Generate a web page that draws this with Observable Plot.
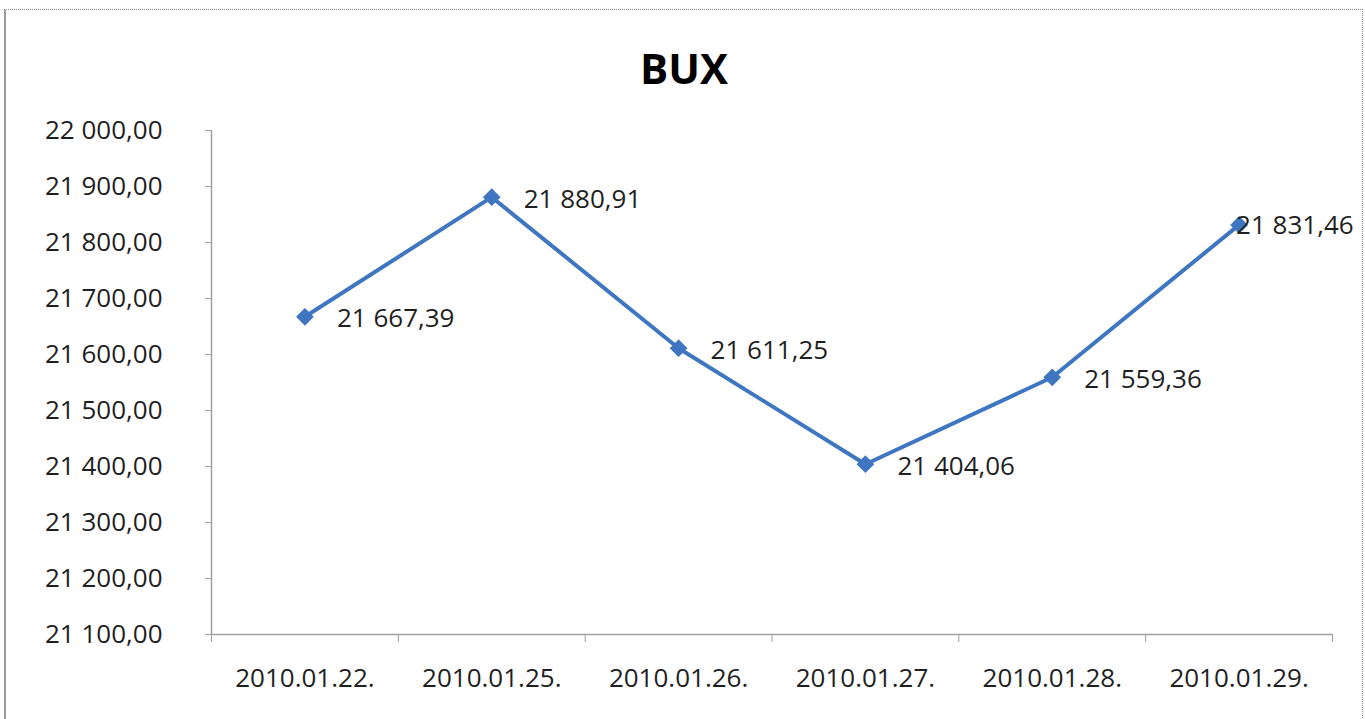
<!DOCTYPE html>
<html>
<head>
<meta charset="utf-8">
<script src="https://cdn.jsdelivr.net/npm/d3@7"></script>
<script src="https://cdn.jsdelivr.net/npm/@observablehq/plot@0.6"></script>
<style>
  html, body { margin: 0; padding: 0; background: #fff; }
  #wrap { position: relative; width: 1365px; height: 719px; overflow: hidden; }
  #border { position: absolute; left: 4px; top: 9px; width: 1356px; height: 760px;
            border-top: 1px dotted #8a8a8a; border-right: 1px dotted #8a8a8a;
            border-left: 2px solid #9a9a9a; pointer-events: none; }
</style>
</head>
<body>
<div id="wrap"><div id="border"></div></div>
<script>
const title = "BUX";
const dates = ["2010.01.22.", "2010.01.25.", "2010.01.26.", "2010.01.27.", "2010.01.28.", "2010.01.29."];
const values = [21667.39, 21880.91, 21611.25, 21404.06, 21559.36, 21831.46];
const yTicks = [21100, 21200, 21300, 21400, 21500, 21600, 21700, 21800, 21900, 22000];

const locale = d3.formatLocale({decimal: ",", thousands: " ", grouping: [3], currency: ["", ""]});
const fmt = locale.format(",.2f");

const idx = dates.map((d, i) => i);
const bounds = d3.range(dates.length + 1).map(i => i - 0.5);
const blue = "#3f76c2";
const axisGray = "#a0a0a0";
const textColor = "#1f1f1f";

const chart = Plot.plot({
  width: 1365,
  height: 719,
  marginLeft: 211,
  marginRight: 33,
  marginTop: 130,
  marginBottom: 85,
  style: {fontFamily: "'Open Sans', sans-serif", fontSize: "26px", background: "transparent", color: textColor},
  x: {type: "linear", domain: [-0.5, dates.length - 0.5]},
  y: {domain: [yTicks[0], yTicks[yTicks.length - 1]]},
  marks: [
    Plot.ruleX([-0.5], {stroke: axisGray, strokeWidth: 1.5}),
    Plot.ruleY([yTicks[0]], {stroke: axisGray, strokeWidth: 1.5}),
    Plot.axisY({ticks: yTicks, tickFormat: () => "", tickSize: 6, stroke: axisGray, label: null}),
    Plot.axisY({ticks: yTicks, tickFormat: fmt, tickSize: 0, tickPadding: 49, fill: textColor, label: null}),
    Plot.axisX({ticks: bounds, tickFormat: () => "", tickSize: 8, stroke: axisGray, label: null}),
    Plot.axisX({ticks: idx, tickFormat: i => dates[i], tickSize: 0, tickPadding: 34, fill: textColor, label: null}),
    Plot.line(idx, {x: i => i, y: i => values[i], stroke: blue, strokeWidth: 4}),
    Plot.dot(idx, {x: i => i, y: i => values[i], symbol: "diamond2", r: 8, fill: blue, stroke: "none"}),
    Plot.text(idx.slice(0, -1), {x: i => i, y: i => values[i], text: i => fmt(values[i]), textAnchor: "start", dx: 32, dy: 2, fill: textColor}),
    Plot.text(idx.slice(-1), {x: i => i, y: i => values[i], text: i => fmt(values[i]), textAnchor: "start", dx: -3, dy: 1, fill: textColor}),
    Plot.text([title], {frameAnchor: "top", dx: -88, dy: -60, fontSize: 42, fontWeight: "bold", fill: "#000", lineAnchor: "middle"})
  ]
});
document.getElementById("wrap").appendChild(chart);
</script>
</body>
</html>
